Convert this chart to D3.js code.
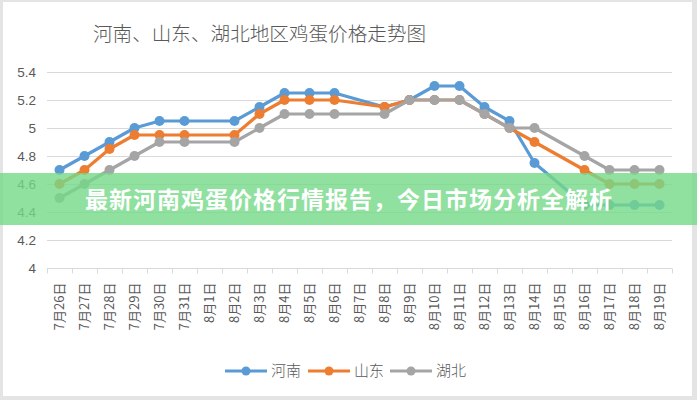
<!DOCTYPE html>
<html>
<head>
<meta charset="utf-8">
<script src="https://cdn.jsdelivr.net/npm/d3@7"></script>
<style>
  body { margin: 0; background: #e4e4e4; }
  svg { display: block; }
</style>
</head>
<body>
<div id="chart"></div>
<script>
// Chart data
const categories = ["7月26日", "7月27日", "7月28日", "7月29日", "7月30日", "7月31日",
  "8月1日", "8月2日", "8月3日", "8月4日", "8月5日", "8月6日", "8月7日", "8月8日",
  "8月9日", "8月10日", "8月11日", "8月12日", "8月13日", "8月14日", "8月15日",
  "8月16日", "8月17日", "8月18日", "8月19日"]

// null = no value on that day, the line joins across it
const henan = [4.7, 4.8, 4.9, 5.0, 5.05, 5.05, null, 5.05, 5.15, 5.25, 5.25, 5.25, null, 5.15,
  5.2, 5.3, 5.3, 5.15, 5.05, 4.75, null, 4.45, 4.45, 4.45, 4.45]
const shandong = [4.6, 4.7, 4.85, 4.95, 4.95, 4.95, null, 4.95, 5.1, 5.2, 5.2, 5.2, null, 5.15,
  5.2, 5.2, 5.2, 5.1, 5.0, 4.9, null, 4.7, 4.6, 4.6, 4.6]
const hubei = [4.5, 4.6, 4.7, 4.8, 4.9, 4.9, null, 4.9, 5.0, 5.1, 5.1, 5.1, null, 5.1,
  5.2, 5.2, 5.2, 5.1, 5.0, 5.0, null, 4.8, 4.7, 4.7, 4.7]

const yTicks = [4, 4.2, 4.4, 4.6, 4.8, 5, 5.2, 5.4]
const seriesNames = ["河南", "山东", "湖北"]
const colors = ["#5b9bd5", "#ed7d31", "#a5a5a5"]

const chartTitle = "河南、山东、湖北地区鸡蛋价格走势图"
const bannerText = "最新河南鸡蛋价格行情报告，今日市场分析全解析"

const svgWidth = 697
const svgHeight = 400

let margin = { top: 72, right: 25, bottom: 132, left: 47 }
let width = svgWidth - margin.left - margin.right
let height = svgHeight - margin.top - margin.bottom

let svg = d3.select("#chart")
  .append("svg")
  .attr("width", svgWidth)
  .attr("height", svgHeight)

// white chart card with a light frame
svg.append("rect")
  .attr("x", 3).attr("y", 2)
  .attr("width", 689).attr("height", 394)
  .attr("fill", "#fff")

svg.append("text")
  .attr("x", 93)
  .attr("y", 41)
  .attr("fill", "#595959")
  .style("font-family", "'Noto Sans CJK SC', sans-serif")
  .style("font-size", "19.6px")
  .style("font-weight", 300)
  .text(chartTitle)

let chartGroup = svg.append("g")
  .attr("transform", `translate(${margin.left}, ${margin.top})`)

let x = d3.scaleBand().domain(categories).range([0, width])
let y = d3.scaleLinear().domain([4, 5.4]).range([height, 0])

// gridlines
chartGroup.append("g")
  .selectAll("line")
  .data(yTicks.slice(1))
  .enter()
  .append("line")
  .attr("x1", 0).attr("x2", width)
  .attr("y1", d => y(d) + 0.5).attr("y2", d => y(d) + 0.5)
  .attr("stroke", "#d9d9d9")
  .attr("stroke-width", 1)

// y axis labels
let leftAxis = d3.axisLeft(y).tickValues(yTicks).tickSize(0).tickPadding(11)
  .tickFormat(d => d3.format("~g")(d))
let yAxis = chartGroup.append("g").call(leftAxis)
yAxis.select(".domain").remove()
yAxis.selectAll("text")
  .attr("fill", "#595959")
  .style("font-family", "'Liberation Sans', sans-serif")
  .style("font-size", "13.5px")

// x axis, ticks sit between categories
let xAxis = chartGroup.append("g")
  .attr("transform", `translate(0, ${height + 0.5})`)
xAxis.append("line")
  .attr("x1", 0).attr("x2", width)
  .attr("stroke", "#d9d9d9")
xAxis.selectAll(".tick")
  .data(d3.range(categories.length + 1))
  .enter()
  .append("line")
  .attr("x1", i => i * x.bandwidth() + 0.5)
  .attr("x2", i => i * x.bandwidth() + 0.5)
  .attr("y1", 0).attr("y2", 5)
  .attr("stroke", "#d9d9d9")

xAxis.selectAll("text")
  .data(categories)
  .enter()
  .append("text")
  .attr("transform", d => `translate(${x(d) + x.bandwidth() / 2}, 14) rotate(-90)`)
  .attr("text-anchor", "end")
  .attr("dy", "0.36em")
  .attr("fill", "#595959")
  .style("font-family", "'Noto Sans CJK SC', sans-serif")
  .style("font-size", "13px")
  .text(d => d)

// series
let allSeries = [henan, shandong, hubei]
let line = d3.line()
  .x(d => x(d.cat) + x.bandwidth() / 2)
  .y(d => y(d.value))

allSeries.forEach((values, i) => {
  let pts = values
    .map((v, j) => ({ cat: categories[j], value: v }))
    .filter(d => d.value !== null)
  let g = chartGroup.append("g")
  g.append("path")
    .datum(pts)
    .attr("d", line)
    .attr("fill", "none")
    .attr("stroke", colors[i])
    .attr("stroke-width", 3.2)
    .attr("stroke-linejoin", "round")
  g.selectAll("circle")
    .data(pts)
    .enter()
    .append("circle")
    .attr("cx", d => x(d.cat) + x.bandwidth() / 2)
    .attr("cy", d => y(d.value))
    .attr("r", 5)
    .attr("fill", colors[i])
})

// legend
let legendX = [225, 308, 390]
let legend = svg.append("g")
seriesNames.forEach((name, i) => {
  let lg = legend.append("g").attr("transform", `translate(${legendX[i]}, 371)`)
  lg.append("line")
    .attr("x1", 0).attr("x2", 42)
    .attr("stroke", colors[i]).attr("stroke-width", 3.2)
  lg.append("circle").attr("cx", 21).attr("r", 4.5).attr("fill", colors[i])
  lg.append("text")
    .attr("x", 46)
    .attr("dy", "0.36em")
    .attr("fill", "#595959")
    .style("font-family", "'Noto Sans CJK SC', sans-serif")
    .style("font-size", "15px")
    .style("font-weight", 300)
    .text(name)
})

// green banner overlay on top of the chart
svg.append("rect")
  .attr("x", 0).attr("y", 173)
  .attr("width", svgWidth).attr("height", 52)
  .attr("fill", "rgb(116,216,136)")
  .attr("fill-opacity", 0.8)

svg.append("text")
  .attr("x", 349)
  .attr("y", 200)
  .attr("dy", "0.35em")
  .attr("text-anchor", "middle")
  .attr("fill", "#fff")
  .style("font-family", "'Noto Sans CJK SC', sans-serif")
  .style("font-size", "23px")
  .style("font-weight", 700)
  .style("letter-spacing", "1px")
  .text(bannerText)
</script>
</body>
</html>
